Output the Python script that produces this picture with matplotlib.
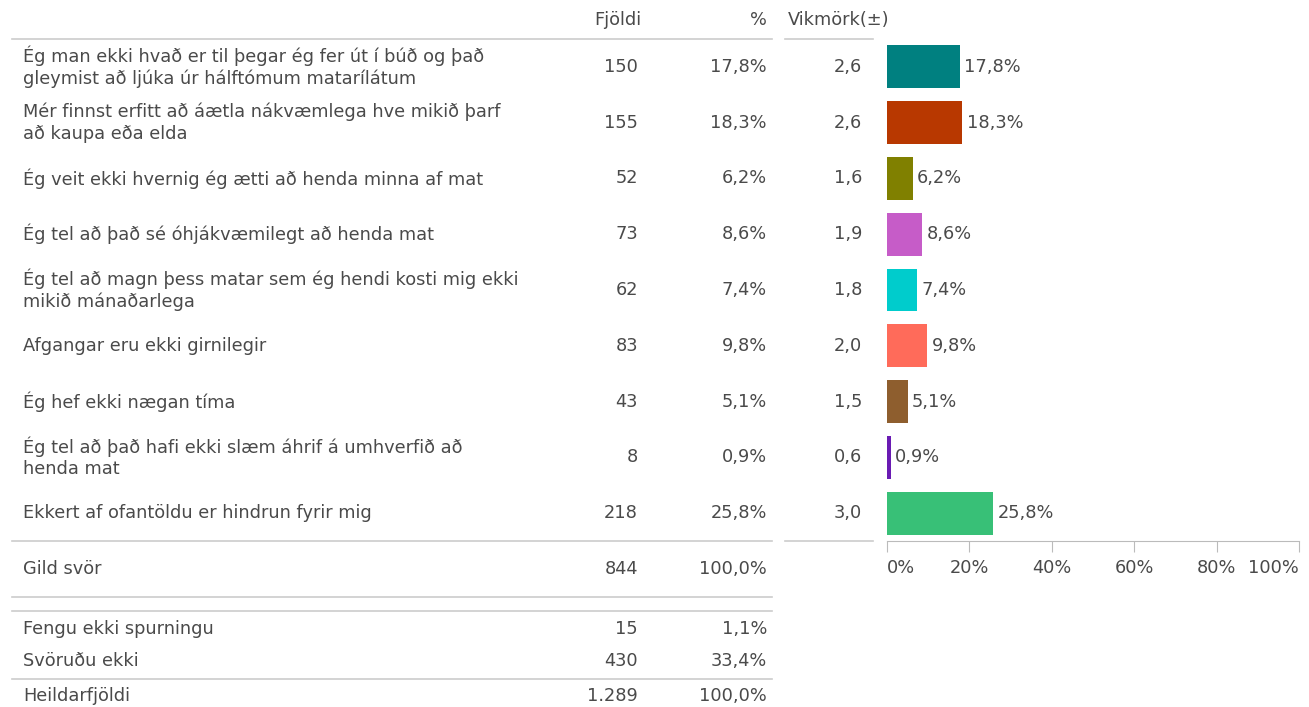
import matplotlib
matplotlib.use("Agg")
import matplotlib.pyplot as plt
from matplotlib.transforms import blended_transform_factory

categories = [
    "Ég man ekki hvað er til þegar ég fer út í búð og það\ngleymist að ljúka úr hálftómum matarílátum",
    "Mér finnst erfitt að áætla nákvæmlega hve mikið þarf\nað kaupa eða elda",
    "Ég veit ekki hvernig ég ætti að henda minna af mat",
    "Ég tel að það sé óhjákvæmilegt að henda mat",
    "Ég tel að magn þess matar sem ég hendi kosti mig ekki\nmikið mánaðarlega",
    "Afgangar eru ekki girnilegir",
    "Ég hef ekki nægan tíma",
    "Ég tel að það hafi ekki slæm áhrif á umhverfið að\nhenda mat",
    "Ekkert af ofantöldu er hindrun fyrir mig",
]
counts = [150, 155, 52, 73, 62, 83, 43, 8, 218]
percents = [17.8, 18.3, 6.2, 8.6, 7.4, 9.8, 5.1, 0.9, 25.8]
margins = [2.6, 2.6, 1.6, 1.9, 1.8, 2.0, 1.5, 0.6, 3.0]
colors = ["#008080", "#B83800", "#808000", "#C65CC8", "#00CCCC",
          "#FF6B5A", "#8E5E2E", "#6A1BB3", "#38C077"]

valid_label, valid_count, valid_pct = "Gild svör", "844", "100,0%"
extra_labels = ["Fengu ekki spurningu", "Svöruðu ekki", "Heildarfjöldi"]
extra_counts = ["15", "430", "1.289"]
extra_pcts = ["1,1%", "33,4%", "100,0%"]
xticks = [0, 20, 40, 60, 80, 100]

W, H = 1309, 707
fig = plt.figure(figsize=(W / 100, H / 100), dpi=100)
ax = fig.add_axes([887 / W, (H - 541) / H, (1299 - 887) / W, (541 - 39) / H])

TXT = "#4a4a4a"
LINE = "#cccccc"
FS = 12.8

def fmt(v):
    return f"{v:.1f}".replace(".", ",")

ypos = list(range(len(categories)))
ax.barh(ypos, percents, height=0.77, color=colors)
for y, p in zip(ypos, percents):
    ax.text(p + 1.0, y, fmt(p) + "%", va="center", ha="left", fontsize=FS, color=TXT)

ax.set_xlim(0, 100)
ax.set_ylim(len(categories) - 0.5, -0.5)
for s in ["top", "right", "left"]:
    ax.spines[s].set_visible(False)
ax.spines["bottom"].set_color("#bbbbbb")
ax.set_yticks([])
ax.set_xticks(xticks)
ax.set_xticklabels([f"{t}%" for t in xticks], fontsize=FS, color=TXT)
labs = ax.get_xticklabels()
labs[0].set_horizontalalignment("left")
labs[-1].set_horizontalalignment("right")
ax.tick_params(axis="x", length=8, color="#bbbbbb", pad=5)

def px(x):
    return x / W
tr = blended_transform_factory(fig.transFigure, ax.transData)

def t(x, y, s, ha="left"):
    fig.text(px(x), y, s, transform=tr, ha=ha, va="center", fontsize=FS,
             color=TXT, linespacing=1.25, clip_on=False)

def hline(y, x0, x1):
    fig.add_artist(plt.Line2D([px(x0), px(x1)], [y, y], transform=tr,
                              color=LINE, lw=1.2))

hy = -0.5 - 19 / 55.75
t(641, hy, "Fjöldi", ha="right")
t(767, hy, "%", ha="right")
t(788, hy, "Vikmörk(±)")
hline(-0.5, 12, 772)
hline(-0.5, 785, 873)

for i, c in enumerate(categories):
    t(23, i, c)
    t(638, i, str(counts[i]), ha="right")
    t(767, i, fmt(percents[i]) + "%", ha="right")
    t(862, i, fmt(margins[i]), ha="right")

hline(8.5, 12, 772)
hline(8.5, 785, 873)
t(23, 9.0, valid_label)
t(638, 9.0, valid_count, ha="right")
t(767, 9.0, valid_pct, ha="right")
hline(9.5, 12, 772)
hline(9.75, 12, 772)

extra_y = [10.08, 10.65, 11.28]
for lab, cnt, pc, y in zip(extra_labels, extra_counts, extra_pcts, extra_y):
    t(23, y, lab)
    t(638, y, cnt, ha="right")
    t(767, y, pc, ha="right")
hline(10.98, 12, 772)

fig.savefig("out.png", dpi=100)
